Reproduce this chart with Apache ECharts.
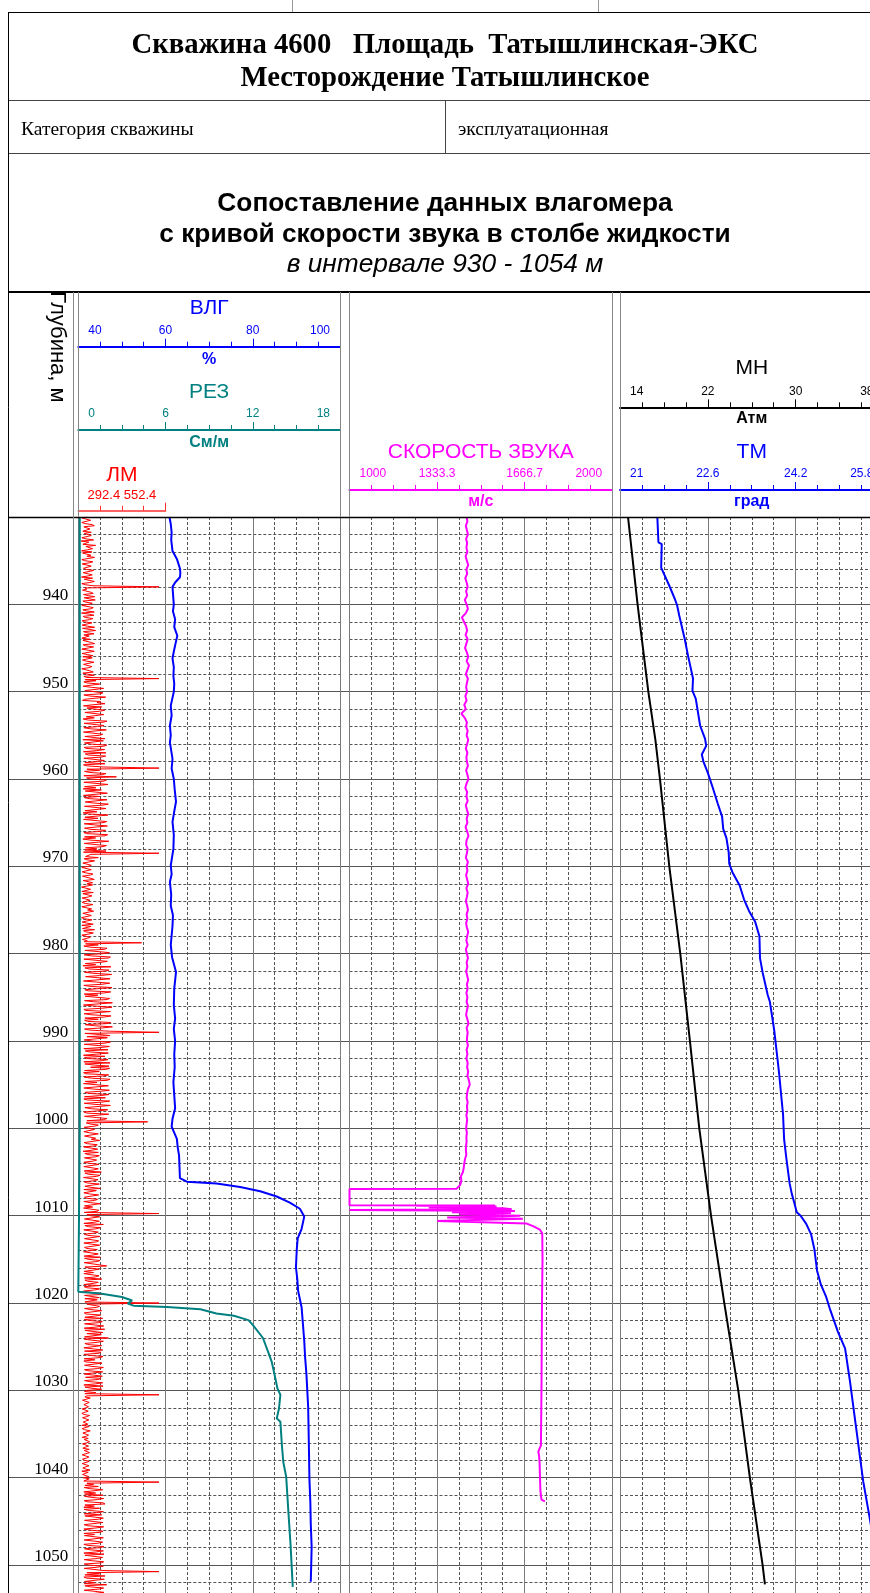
<!DOCTYPE html>
<html><head><meta charset="utf-8">
<script src="https://cdn.jsdelivr.net/npm/echarts@6/dist/echarts.min.js"></script>
<style>html,body{margin:0;padding:0;background:#fff}#c{width:870px;height:1593px}</style>
</head><body><div id="c"></div>
<script>
// ---------------- DATA ----------------
const depthMin = 930, depthMax = 1060;
const depthLabels = [940,950,960,970,980,990,1000,1010,1020,1030,1040,1050];

const vlgTicks = ['40','60','80','100'];
const rezTicks = ['0','6','12','18'];
const lmTicks  = ['292.4','552.4'];
const vzTicks  = ['1000','1333.3','1666.7','2000'];
const mnTicks  = ['14','22','30','38'];
const tmTicks  = ['21','22.6','24.2','25.8'];

// ЛМ (magnetic locator): samples A at 930 + k*0.25 m, samples B at 930.125 + k*0.25 m
const lmStart = 930, lmStep = 0.25;
const lmValuesA = [
318,305,326,312,340,308,322,331, 309,336,315,301,328,344,312,320,
333,307,318,339,311,325,302,329, 316,342,309,321,335,306,327,313,
533,318,304,337,322,310,343,315, 324,308,331,317,302,339,313,326,
311,336,320,305,344,318,309,330, 327,303,341,314,322,308,335,319,
306,329,316,340,311,324,302,337, 321,309,533,345,318,352,331,365,
312,358,327,370,305,348,336,362, 318,355,309,373,340,322,366,314,
350,328,371,311,356,339,306,362, 331,368,316,347,375,322,359,308,
344,372,319,533,356,327,364,406, 330,368,312,378,345,361,318,374,
356,325,380,339,363,314,371,348, 322,376,351,309,366,340,382,327,
359,317,372,344,330,378,312,363, 348,375,533,326,352,318,337,309,
322,306,334,315,328,301,340,312, 318,331,304,326,337,310,323,302,
329,313,338,307,320,333,305,327, 311,336,318,303,329,341,315,324,
306,332,319,481,352,327,371,316, 365,331,382,312,358,344,390,325,
372,339,356,318,385,347,363,330, 391,322,368,351,309,379,338,395,
344,361,315,386,333,370,352,320, 378,341,364,327,533,356,318,383,
335,369,312,358,381,326,347,372, 318,363,387,340,329,374,355,315,
366,331,379,348,312,384,337,360, 325,356,373,319,361,342,389,331,
350,318,382,346,367,499,328,341, 312,337,325,348,306,331,358,319,
342,310,333,352,321,345,308,336, 327,350,314,339,361,322,347,311,
338,319,353,330,309,344,325,356, 317,341,328,362,335,313,348,533,
329,352,316,340,367,322,345,310, 338,321,355,312,346,331,360,318,
344,309,336,358,324,349,315,377, 326,351,338,313,345,362,320,337,
355,318,341,327,369,333,312,350, 533,322,347,330,358,316,341,365,
327,352,312,345,371,335,318,356, 382,331,349,320,363,338,311,354,
329,357,342,316,368,333,350,321, 361,338,314,352,327,344,366,331,
318,345,533,312,326,308,321,304, 315,301,324,309,318,306,329,312,
303,320,311,327,305,316,322,308, 318,304,313,325,309,321,302,317,
311,326,306,319,314,303,323,310, 307,321,533,338,352,327,361,344,
366,331,349,318,372,340,356,325, 347,362,316,353,334,368,321,345,
330,357,341,312,364,338,351,322, 359,327,345,369,316,350,333,361,
324,348,339,533,356,372,318,365, 341,377,329,354,312,366,337,348,
331
];
const lmValuesB = [
304,329,303,334,309,327,306,310, 331,303,338,324,306,315,335,302,
305,330,341,303,336,304,331,308, 338,307,334,302,310,340,303,336,
312,305,331,308,341,326,306,334, 303,337,306,340,325,307,336,304,
333,304,341,327,308,339,325,303, 306,332,307,338,303,340,304,336,
334,305,339,308,333,303,328,306, 340,318,312,309,356,307,368,312,
366,309,374,311,359,372,308,318, 371,312,368,316,307,378,310,369,
309,376,308,365,312,372,367,311, 377,310,371,308,313,374,309,370,
312,308,369,318,311,375,309,317, 376,309,381,311,307,313,379,308,
310,378,313,382,311,375,312,307, 381,312,308,377,310,379,311,374,
309,380,311,306,383,310,376,314, 312,308,330,314,310,341,306,331,
303,331,304,336,305,330,307,335, 335,302,329,303,306,333,304,327,
304,336,303,332,338,306,331,302, 333,304,337,330,305,308,337,303,
328,305,310,314,309,378,312,385, 310,388,309,379,313,306,312,384,
311,392,314,387,308,386,309,393, 312,389,310,313,386,311,394,308,
393,309,388,310,390,312,311,389, 313,394,311,386,312,387,379,310,
388,310,385,309,313,382,308,311, 381,309,312,384,386,311,308,383,
310,387,313,308,382,309,385,312, 384,311,309,386,310,388,312,380,
309,383,311,378,318,316,352,310, 341,309,352,311,344,356,310,349,
309,350,307,312,355,311,347,309, 354,309,352,310,312,357,308,351,
310,355,312,358,346,309,353,311, 350,309,357,311,308,354,310,318,
356,311,355,309,312,358,309,352, 310,357,311,353,309,356,311,349,
308,352,310,311,357,310,355,312, 355,310,309,354,311,312,352,309,
310,356,308,358,311,355,349,312, 318,356,311,362,310,359,312,310,
364,311,368,310,312,366,361,311, 310,367,312,362,309,365,360,309,
366,310,309,363,311,367,311,365, 310,364,360,311,365,309,312,362,
311,312,318,328,305,325,309,323, 304,322,303,326,305,324,307,321,
325,304,328,306,323,304,310,326, 305,323,306,310,326,304,324,305,
325,304,324,306,327,322,305,324, 325,309,318,312,310,365,309,311,
311,368,310,366,312,309,310,367, 310,312,367,311,366,310,368,309,
366,309,311,367,310,365,309,368, 311,367,309,312,365,310,368,310,
367,310,366,318,312,309,370,311, 310,312,368,310,369,311,309,312
];

// ВЛГ, % : [value, depth]
const vlgData = [
[60.9,930],[61.2,930.8],[61.4,931.8],[61.3,932.6],[61.6,933.9],[62.6,934.8],[63.3,935.9],[63.4,936.4],[63.3,936.9],[62.2,937.5],
[61.6,938.0],[61.8,939.4],[61.9,940.0],[61.7,940.8],[62.2,941.7],[62.0,942.6],[62.7,943.6],[62.2,944.7],[61.9,945.4],[61.6,946.2],
[61.9,947.2],[61.8,948.2],[62.0,949.1],[61.9,950.0],[61.2,951.6],[61.4,952.7],[61.0,953.9],[61.2,955.0],[61.0,955.8],[61.6,957.7],
[61.4,958.8],[61.9,960.0],[62.1,961.2],[62.4,962.6],[62.0,963.7],[61.6,964.9],[61.9,966.4],[61.8,968.0],[61.2,969.9],[61.4,970.9],
[61.0,971.8],[61.3,973.2],[61.2,974.5],[61.7,975.6],[61.6,976.8],[61.2,979.0],[61.5,980.4],[62.4,982.1],[62.0,984.0],[61.9,985.9],
[62.2,987.4],[61.9,988.6],[62.2,990.0],[62.0,991.5],[62.1,993.0],[61.8,994.7],[62.0,996.2],[62.2,997.7],[61.6,998.9],[61.4,999.8],
[62.6,1001.2],[62.8,1002.2],[63.1,1003.1],[63.2,1004.4],[63.3,1005.7],[64.9,1006.1],[71.7,1006.3],[77.1,1006.7],[81.7,1007.2],[85.5,1007.8],
[88.5,1008.5],[90.8,1009.2],[91.8,1010.1],[91.2,1011.5],[90.3,1012.6],[90.1,1013.8],[90.0,1014.8],[89.9,1015.9],[90.2,1017.2],[90.4,1018.6],
[91.2,1020.5],[91.5,1022.4],[91.8,1024.3],[92.0,1026.2],[92.3,1028.1],[92.5,1030.0],[92.7,1031.9],[92.8,1034.5],[92.9,1037.4],[93.0,1040.3],
[93.2,1042.8],[93.3,1045.3],[93.5,1047.9],[93.4,1050.0],[93.3,1051.9]
];

// РЕЗ, См/м : [value, depth]
const rezData = [
[0.1,930],[0.1,1000],[0.05,1010],[0.0,1018.7],[1.5,1018.9],[3.0,1019.3],[3.7,1019.7],[3.4,1020.05],[3.8,1020.3],[6.1,1020.45],
[8.4,1020.7],[9.5,1021.2],[10.7,1021.45],[11.7,1021.95],[12.0,1022.5],[12.7,1024.0],[13.1,1025.8],[13.3,1026.7],[13.5,1028.2],[13.7,1029.8],
[13.9,1030.5],[13.8,1032.1],[13.65,1033.2],[13.9,1033.6],[14.0,1036.2],[14.1,1038.2],[14.3,1039.9],[14.45,1043.9],[14.6,1047.7],[14.75,1052.5]
];

// Скорость звука, м/с : sampled every 0.5 m from 930 m, then [value, depth]
const vzStart = 930, vzStep = 0.5;
const vzUpper = [
1446,1449,1443,1447,1451,1444,1448,1445, 1449,1442,1447,1452,1445,1448,1441,1446,
1450,1444,1448,1439,1446,1451,1443,1428, 1436,1444,1448,1442,1450,1445,1440,1447,
1452,1446,1455,1449,1443,1451,1447,1444, 1448,1441,1446,1437,1443,1426,1439,1447,
1444,1450,1446,1452,1448,1443,1449,1445, 1447,1451,1444,1449,1453,1446,1441,1448,
1445,1450,1443,1447,1452,1446,1449,1442, 1448,1453,1446,1444,1450,1447,1443,1451,
1446,1449,1444,1448,1452,1445,1450,1447, 1443,1448,1451,1446,1449,1444,1447,1452,
1448,1445,1450,1443,1447,1451,1446,1449, 1444,1448,1452,1447,1450,1445,1449,1446,
1451,1447,1444,1449,1453,1446,1450,1448, 1447,1451,1446,1449,1445,1450,1448,1452,
1449,1455,1458,1451,1448,1446,1450,1447, 1449,1445,1448,1446,1444,1447,1445,1446,
1444,1443,1445,1440,1437,1435,1432,1424, 1426,1421
];
const vzLower = [
[1408,1006.9],[1000,1006.95],[1000,1008.8],[1554,1008.82],[1254,1008.87],[1560,1008.95],[1302,1009.05],[1584,1009.15],[1618,1009.25],
[1000,1009.35],[1630,1009.45],[1390,1009.6],[1615,1009.7],[1420,1009.85],[1650,1010.0],[1372,1010.2],[1660,1010.35],[1334,1010.6],
[1675,1010.9],[1699,1011.2],[1725,1011.6],[1734,1012.0],[1735,1015],[1733,1020],[1732,1025],[1731,1030],[1729,1036.3],
[1719,1037.0],[1722,1037.5],[1724,1038.4],[1725,1039.6],[1727,1041.5],[1731,1042.5],[1744,1042.7]
];

// МН, Атм : [value, depth]
const mnData = [
[14.73,930],[15.60,940],[16.58,950],[17.22,955.5],[17.64,960],[18.49,970],[19.49,980],[20.37,990],[21.22,1000],
[22.29,1010],[23.50,1020],[24.77,1030],[25.83,1040],[26.99,1050],[27.2,1052.2]
];

// ТМ, град : [value, depth]
const tmData = [
[21.68,930],[21.70,932.9],[21.76,933.1],[21.75,935.8],[21.90,937.9],[22.00,939.4],[22.04,940.1],[22.08,941.3],[22.18,944.0],[22.24,945.9],
[22.33,948.5],[22.32,949.9],[22.38,950.8],[22.46,953.9],[22.55,955.4],[22.57,956.2],[22.49,957.2],[22.52,958.0],[22.60,959.3],[22.69,961.0],
[22.78,962.8],[22.86,964.3],[22.88,965.7],[22.94,966.8],[22.98,968.4],[22.99,969.7],[23.05,970.7],[23.18,972.2],[23.26,973.8],[23.35,975.1],
[23.46,976.3],[23.54,978.0],[23.55,980.5],[23.60,982.2],[23.69,984.7],[23.73,985.5],[23.81,988.8],[23.87,992.1],[23.90,993.8],[23.95,997.1],
[23.97,998.4],[23.99,1001.3],[24.03,1003.4],[24.09,1006.3],[24.13,1007.5],[24.17,1008.4],[24.22,1009.6],[24.29,1010.0],[24.39,1010.9],[24.48,1012.1],
[24.54,1013.8],[24.59,1016.3],[24.66,1017.9],[24.75,1019.2],[24.82,1020.6],[24.97,1023.3],[25.10,1025.2],[25.19,1029.0],[25.31,1034.7],[25.43,1040.4],
[25.54,1044.3],[25.64,1048.0],[25.73,1052.2]
];

// ---------------- LAYOUT ----------------
const TOP = 517, PXM = 8.734, H = (depthMax - depthMin) * PXM;
const T1 = {l:78.3, w:261.7}, T2 = {l:349.5, w:262.6}, T3 = {l:620, w:263.5};
const SANS = '"Liberation Sans", Arial, sans-serif';
const SERIF = '"Liberation Serif", "Times New Roman", serif';
const BLUE = '#0000ff', TEAL = '#008080', RED = '#ff0000', MAG = '#ff00ff';

function G(left, top, width, height){ return {left, top, width, height, outerBoundsMode:'none', containLabel:false}; }
const grids = [
  G(8, TOP, 875, H),              // 0 background
  G(8, TOP, 65.3, H),             // 1 depth column
  G(T1.l, TOP, T1.w, H),          // 2 track 1
  G(T2.l, TOP, T2.w, H),          // 3 track 2
  G(T3.l, TOP, T3.w, H),          // 4 track 3
  G(T1.l, 346.7, T1.w, 1),        // 5 ВЛГ header
  G(T1.l, 430, T1.w, 1),          // 6 РЕЗ header
  G(T1.l, 510.7, T1.w/3, 1),      // 7 ЛМ header
  G(T2.l, 490, T2.w, 1),          // 8 V header
  G(T3.l, 407.3, T3.w, 1),        // 9 МН header
  G(T3.l, 490, T3.w, 1)           // 10 ТМ header
];

function hiddenX(gi, min, max){ return {type:'value', gridIndex:gi, min, max, show:false}; }
function gridX(gi){
  return {type:'value', gridIndex:gi, min:0, max:12, interval:4, show:true,
    axisLine:{show:false}, axisTick:{show:false}, axisLabel:{show:false},
    minorTick:{show:false, splitNumber:4},
    splitLine:{show:true, lineStyle:{color:'#7a7a7a', width:1}},
    minorSplitLine:{show:true, lineStyle:{color:'#555', width:1, type:[3,2]}}};
}
function headerX(gi, min, max, interval, color, labels, lineW){
  const last = labels.length - 1;
  return {type:'value', gridIndex:gi, position:'top', min, max, interval,
    axisLine:{show:true, onZero:false, lineStyle:{color, width:lineW||2}},
    axisTick:{show:true, length:8, lineStyle:{color, width:1}},
    minorTick:{show:true, splitNumber:4, length:5, lineStyle:{color, width:1}},
    splitLine:{show:false},
    axisLabel:{show: labels.length > 0, color, fontSize:12, fontFamily:SANS, margin:10,
      alignMinLabel:'left', alignMaxLabel:'right',
      formatter:(v) => {
        const k = Math.round((v - min) / interval);
        if (Math.abs(v - (min + k * interval)) > interval * 1e-3) return '';
        const s = labels[k] ?? '';
        if (s === '') return '';
        if (k === last && v !== max) return '';
        if (k === 0) return '{l|' + s + '}';
        if (k === last) return '{r|' + s + '}';
        return s;
      },
      rich:{
        l:{padding:[0,0,0,10], color, fontSize:12, fontFamily:SANS},
        r:{padding:[0,10,0,0], color, fontSize:12, fontFamily:SANS}
      }}};
}
function depthY(gi, extra){
  return Object.assign({type:'value', gridIndex:gi, min:depthMin, max:depthMax, interval:10, inverse:true,
    axisLine:{show:false}, axisTick:{show:false}, axisLabel:{show:false},
    splitLine:{show:false}, minorTick:{show:false, splitNumber:5}, minorSplitLine:{show:false}}, extra||{});
}
function hiddenY(gi){ return {type:'value', gridIndex:gi, min:0, max:1, show:false}; }

const xAxis = [
  hiddenX(0,0,1),                      // 0
  hiddenX(1,0,1),                      // 1
  gridX(2),                            // 2
  hiddenX(2,40,100),                   // 3 ВЛГ
  hiddenX(2,0,18),                     // 4 РЕЗ
  hiddenX(2,292.4,292.4+3*260),        // 5 ЛМ
  gridX(3),                            // 6
  hiddenX(3,1000,2000),                // 7 V
  gridX(4),                            // 8
  hiddenX(4,14,38),                    // 9 МН
  hiddenX(4,21,25.8),                  // 10 ТМ
  headerX(5,40,100,20,BLUE,vlgTicks),  // 11
  headerX(6,0,18,6,TEAL,rezTicks),     // 12
  headerX(7,292.4,552.4,260,'#ff3030',[],1.5), // 13
  headerX(8,1000,2000,1000/3,MAG,vzTicks),     // 14
  headerX(9,14,38,8,'#000',mnTicks),           // 15
  headerX(10,21,25.8,1.6,BLUE,tmTicks)         // 16
];
const yAxis = [
  depthY(0, {splitLine:{show:true, lineStyle:{color:'#555', width:1}}}),
  depthY(1, {position:'right', axisLabel:{show:true, inside:true, margin:5, verticalAlign:'bottom',
    lineHeight:17, fontSize:17, fontFamily:SERIF, color:'#000', showMinLabel:false, showMaxLabel:false,
    formatter:v => depthLabels.indexOf(v) >= 0 ? String(v) : ''}}),
  depthY(2, {minorSplitLine:{show:true, lineStyle:{color:'#555', width:1, type:[3,2]}}}),
  depthY(3, {minorSplitLine:{show:true, lineStyle:{color:'#555', width:1, type:[3,2]}}}),
  depthY(4, {minorSplitLine:{show:true, lineStyle:{color:'#555', width:1, type:[3,2]}}}),
  hiddenY(5), hiddenY(6), hiddenY(7), hiddenY(8), hiddenY(9), hiddenY(10)
];

const lmData = [];
lmValuesA.forEach((v, i) => {
  lmData.push([v, lmStart + i * lmStep]);
  if (i < lmValuesB.length) lmData.push([lmValuesB[i], lmStart + lmStep / 2 + i * lmStep]);
});
const vzData = vzUpper.map((v, i) => [v, vzStart + i * vzStep]).concat(vzLower);

function curve(xi, yi, data, color, width){
  return {type:'line', xAxisIndex:xi, yAxisIndex:yi, data, symbol:'none', showSymbol:false,
    silent:true, animation:false, lineStyle:{color, width}, itemStyle:{color}};
}
const series = [
  curve(5, 2, lmData, RED, 1),
  curve(4, 2, rezData, TEAL, 2),
  curve(3, 2, vlgData, BLUE, 2),
  curve(7, 3, vzData, MAG, 2),
  curve(9, 4, mnData, '#000', 2),
  curve(10, 4, tmData, BLUE, 2)
];

// ---------------- FRAME & TEXT ----------------
const g = [];
function ln(x1,y1,x2,y2,stroke,w){ g.push({type:'line', silent:true, z:100, shape:{x1,y1,x2,y2}, style:{stroke, lineWidth:w}}); }
function tx(t,x,y,font,fill,align,rot){
  const a = align || 'center';
  g.push({type:'text', silent:true, z:100, x, y, rotation:rot||0,
    style:{text:t, font, fill, align:a, verticalAlign:'middle', textAlign:a, textVerticalAlign:'middle'}});
}
ln(8,12.5,870,12.5,'#000',1);
ln(292.5,0,292.5,12,'#999',1); ln(598.5,0,598.5,12,'#999',1);
ln(8,100.5,870,100.5,'#444',1);
ln(8,153.5,870,153.5,'#444',1);
ln(445.5,100,445.5,153,'#444',1);
ln(8,292,870,292,'#000',2);
ln(8,517.5,870,517.5,'#000',1.5);
ln(8.5,12,8.5,1593,'#000',1);
ln(73.5,292,73.5,1593,'#888',1);
[78.5,340.5,349.5,612.5,620.5].forEach(x => ln(x,292,x,517,'#888',1));

tx('Скважина 4600   Площадь  Татышлинская-ЭКС', 445, 46, 'bold 28.7px ' + SERIF, '#000');
tx('Месторождение Татышлинское', 445, 79, 'bold 28.7px ' + SERIF, '#000');
tx('Категория скважины', 21, 130, '19.5px ' + SERIF, '#000', 'left');
tx('эксплуатационная', 458, 130, '19.5px ' + SERIF, '#000', 'left');
tx('Сопоставление данных влагомера', 445, 204, 'bold 26.3px ' + SANS, '#000');
tx('с кривой скорости звука в столбе жидкости', 445, 235, 'bold 26.3px ' + SANS, '#000');
tx('в интервале 930 - 1054 м', 445, 265, 'italic 26.3px ' + SANS, '#000');
tx('Глубина, м', 57, 347, '22px ' + SANS, '#000', 'center', -Math.PI/2);

const c1 = T1.l + T1.w/2, c2 = T2.l + T2.w/2, c3 = T3.l + T3.w/2;
tx('ВЛГ', c1, 308, '21px ' + SANS, BLUE);
tx('%', c1, 360, 'bold 16px ' + SANS, BLUE);
tx('РЕЗ', c1, 392, '21px ' + SANS, TEAL);
tx('См/м', c1, 443, 'bold 16px ' + SANS, TEAL);
tx('ЛМ', T1.l + T1.w/6, 475, '21px ' + SANS, RED);
tx(lmTicks.join(' '), T1.l + T1.w/6, 495, '13px ' + SANS, RED);
tx('СКОРОСТЬ ЗВУКА', c2, 452, '21px ' + SANS, MAG);
tx('м/с', c2, 502, 'bold 16px ' + SANS, MAG);
tx('МН', c3, 368, '21px ' + SANS, '#000');
tx('Атм', c3, 419, 'bold 16px ' + SANS, '#000');
tx('ТМ', c3, 452, '21px ' + SANS, BLUE);
tx('град', c3, 502, 'bold 16px ' + SANS, BLUE);

const chart = echarts.init(document.getElementById('c'), null, {renderer:'canvas'});
chart.setOption({animation:false, backgroundColor:'#fff', grid:grids, xAxis, yAxis, series, graphic:{elements:g}});
</script></body></html>
